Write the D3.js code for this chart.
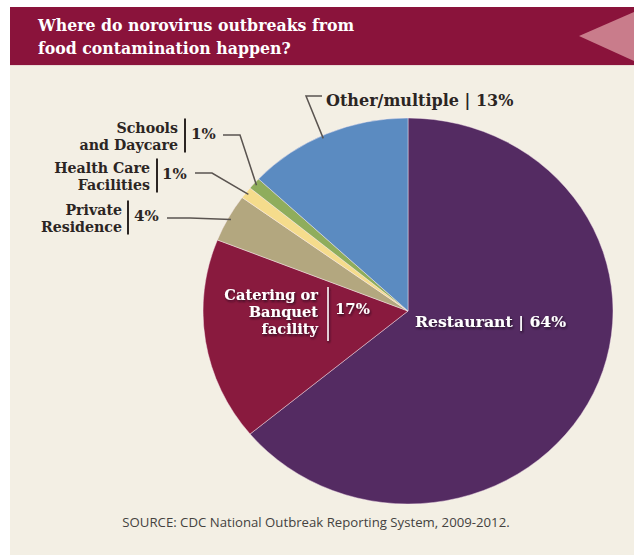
<!DOCTYPE html>
<html>
<head>
<meta charset="utf-8">
<script src="https://cdn.jsdelivr.net/npm/d3@7"></script>
<style>
  html, body { margin: 0; padding: 0; background: #ffffff; }
  svg { display: block; }
</style>
</head>
<body>
<svg id="chart" width="634" height="555"></svg>
<script>
// Outbreak settings, share of norovirus outbreaks from food contamination (%)
const categories = ["Restaurant", "Catering or Banquet facility", "Private Residence",
                    "Health Care Facilities", "Schools and Daycare", "Other/multiple"];
const shares = [64, 17, 4, 1, 1, 13];
const sliceColors = ["#542b62", "#891a3e", "#b3a77f", "#f5dc8c", "#8fad5c", "#5b8bc1"];

const titleLines = ["Where do norovirus outbreaks from", "food contamination happen?"];
const sourceText = "SOURCE: CDC National Outbreak Reporting System, 2009-2012.";

const svg = d3.select("#chart");
const slab = "'DejaVu Serif', serif";
const slabNarrow = "'DejaVu Serif Condensed', 'DejaVu Serif', serif";

// Panel background and title band
svg.append("rect").attr("x", 10).attr("y", 7).attr("width", 624).attr("height", 548).attr("fill", "#f3efe4");
svg.append("rect").attr("x", 10).attr("y", 7).attr("width", 624).attr("height", 58).attr("fill", "#8a133b");
svg.append("path").attr("d", "M579,36 L634,12 L634,61 Z").attr("fill", "#c97c8b");
svg.append("line").attr("x1", 10).attr("x2", 634).attr("y1", 65.5).attr("y2", 65.5)
  .attr("stroke", "#e9d9d4").attr("stroke-width", 1);

// Title as one text block with a line per tspan
svg.append("text")
  .attr("fill", "#ffffff").attr("font-family", slabNarrow).attr("font-stretch", "condensed")
  .attr("font-weight", "bold").attr("font-size", 17.5)
  .selectAll("tspan").data(titleLines).join("tspan")
  .attr("x", 38).attr("y", (d, i) => 31 + i * 23).text(d => d);

// Drop shadow for the white labels that sit on the slices
const defs = svg.append("defs");
defs.append("filter").attr("id", "shadow").attr("x", "-10%").attr("y", "-30%").attr("width", "120%").attr("height", "160%")
  .append("feDropShadow").attr("dx", 1).attr("dy", 1.5).attr("stdDeviation", 1.2)
  .attr("flood-color", "#1a0a18").attr("flood-opacity", 0.8);

// Pie (drawn slightly wider than tall)
const cx = 408, cy = 311, rx = 205, ry = 193;
const sy = ry / rx;
const pie = d3.pie().sort(null).value(d => d.value).startAngle(0).endAngle(2 * Math.PI);
const arcs = pie(categories.map((c, i) => ({ name: c, value: shares[i], color: sliceColors[i] })));
const arc = d3.arc().innerRadius(0).outerRadius(rx);
const rim = d3.arc().innerRadius(rx - 3).outerRadius(rx - 3);
const rimPoint = a => { const [x, y] = rim.centroid(a); return [cx + x, cy + y * sy]; };

const g = svg.append("g").attr("transform", `translate(${cx},${cy}) scale(1,${sy})`);
g.selectAll("path").data(arcs).join("path")
  .attr("d", arc).attr("fill", d => d.data.color)
  .attr("stroke", "rgba(255,240,245,0.45)").attr("stroke-width", 1);

const darkText = "#2b2523";
const leaderColor = "#5a5450";
const byName = Object.fromEntries(arcs.map(a => [a.data.name, a]));

// Outside labels: stacked name, divider, percentage, leader to the slice rim
const outside = [
  { name: "Schools and Daycare", lines: ["Schools", "and Daycare"], right: 178, top: 132.5, bar: 185, pctX: 191, pctY: 139, lead: [223, 240, 135] },
  { name: "Health Care Facilities", lines: ["Health Care", "Facilities"], right: 150, top: 172.5, bar: 157, pctX: 162, pctY: 179, lead: [195, 212, 173] },
  { name: "Private Residence", lines: ["Private", "Residence"], right: 122, top: 214.5, bar: 128, pctX: 134, pctY: 221, lead: [167, 190, 218] }
];

outside.forEach(o => {
  const a = byName[o.name];
  const gl = svg.append("g");
  gl.append("text")
    .attr("text-anchor", "end").attr("fill", darkText)
    .attr("font-family", slab).attr("font-weight", "bold").attr("font-size", 14.2)
    .selectAll("tspan").data(o.lines).join("tspan")
    .attr("x", o.right).attr("y", (d, i) => o.top + i * 17).text(d => d);
  gl.append("line").attr("x1", o.bar).attr("x2", o.bar).attr("y1", o.top - 14).attr("y2", o.top + 20)
    .attr("stroke", darkText).attr("stroke-width", 2);
  gl.append("text").attr("x", o.pctX).attr("y", o.pctY).attr("fill", darkText)
    .attr("font-family", slab).attr("font-weight", "bold").attr("font-size", 15)
    .text(a.data.value + "%");
  const [px, py] = rimPoint(a);
  gl.append("path")
    .attr("d", `M${o.lead[0]},${o.lead[2]} L${o.lead[1]},${o.lead[2]} L${px},${py}`)
    .attr("fill", "none").attr("stroke", leaderColor).attr("stroke-width", 1.5);
});

// Other/multiple label above the pie
{
  const a = byName["Other/multiple"];
  const at = a.startAngle + 0.47 * (a.endAngle - a.startAngle);
  const [px, py] = rimPoint({ startAngle: at, endAngle: at });
  svg.append("text").attr("x", 326).attr("y", 106).attr("fill", darkText)
    .attr("font-family", slab).attr("font-weight", "bold").attr("font-size", 16)
    .text(`${a.data.name} | ${a.data.value}%`);
  svg.append("path").attr("d", `M322,96 L306,96 L${px},${py}`)
    .attr("fill", "none").attr("stroke", leaderColor).attr("stroke-width", 1.5);
}

// Labels inside the two large slices
{
  const a = byName["Restaurant"];
  svg.append("text").attr("x", 415).attr("y", 327).attr("fill", "#ffffff").attr("filter", "url(#shadow)")
    .attr("font-family", slab).attr("font-weight", "bold").attr("font-size", 15.7)
    .text(`${a.data.name} | ${a.data.value}%`);

  const c = byName["Catering or Banquet facility"];
  const lines = ["Catering or", "Banquet", "facility"];
  const gc = svg.append("g").attr("filter", "url(#shadow)");
  gc.append("text")
    .attr("text-anchor", "end").attr("fill", "#ffffff")
    .attr("font-family", slab).attr("font-weight", "bold").attr("font-size", 14.6)
    .selectAll("tspan").data(lines).join("tspan")
    .attr("x", 318).attr("y", (d, i) => 300 + i * 17).text(d => d);
  gc.append("line").attr("x1", 328).attr("x2", 328).attr("y1", 287).attr("y2", 341)
    .attr("stroke", "#ffffff").attr("stroke-width", 1.5);
  gc.append("text").attr("x", 335).attr("y", 314).attr("fill", "#ffffff")
    .attr("font-family", slab).attr("font-weight", "bold").attr("font-size", 14.9)
    .text(c.data.value + "%");
}

// Source note
svg.append("text").attr("x", 316).attr("y", 527).attr("text-anchor", "middle")
  .attr("fill", "#444240").attr("font-family", "'Open Sans', sans-serif").attr("font-size", 13.2)
  .text(sourceText);
</script>
</body>
</html>
